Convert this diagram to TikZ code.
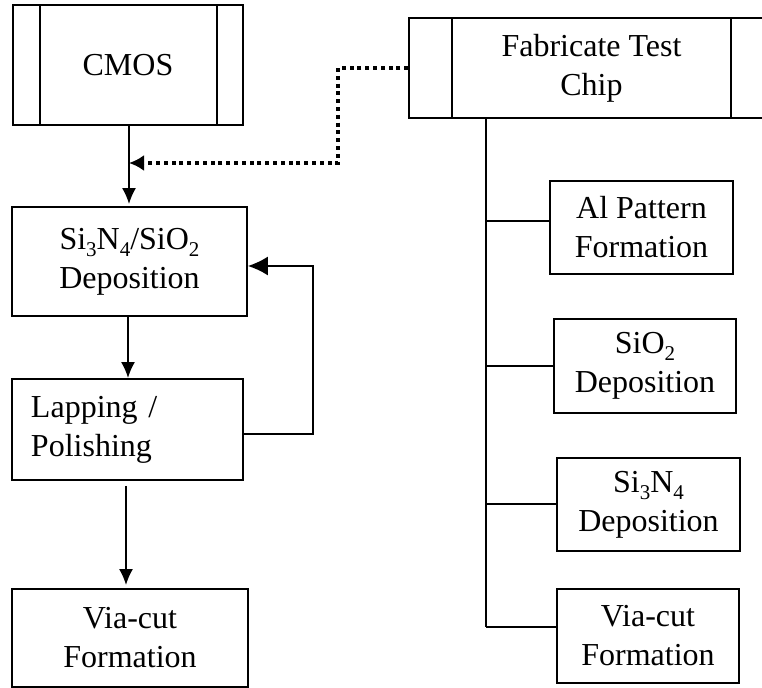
\documentclass[tikz,border=0pt]{standalone}
\usepackage{fontspec}
\setmainfont{Liberation Serif}
\usepackage{tikz}
\usetikzlibrary{arrows.meta}
\newcommand{\chemsub}[1]{\raisebox{-0.22em}{\fontsize{10.5}{10.5}\selectfont #1}}
\tikzstyle{box}=[
        draw, line width=0.9pt, inner sep=0pt, align=center,
        font=\fontsize{16}{19.5}\selectfont
]
\tikzstyle{flow}=[
        line width=0.9pt, -{Latex[length=8pt,width=7pt]}
]
\tikzstyle{bigflow}=[
        line width=0.9pt, -{Latex[length=10pt,width=9.5pt]}
]
\tikzstyle{dots}=[
        line width=1.7pt, dash pattern=on 2pt off 1.9pt, -{Latex[length=7.5pt,width=8pt]}
]
\begin{document}
\begin{tikzpicture}[x=0.5pt,y=-0.5pt]
                        \useasboundingbox (0,0) rectangle (762,688);

                        \node[box, minimum width=115pt, minimum height=60pt] (cmos) at (128,65) {\raisebox{-3.5pt}{CMOS}};
                        \node[box, minimum width=117.5pt, minimum height=54.5pt] (dep) at (129.5,261.5) {Si\chemsub{3}N\chemsub{4}/SiO\chemsub{2}\\Deposition};
                        \node[box, minimum width=115.5pt, minimum height=50.5pt, inner xsep=9.5pt, text width=96.5pt, align=left] (lap) at (127.5,429.5) {Lapping /\\Polishing};
                        \node[box, minimum width=118pt, minimum height=49pt] (via) at (130,638) {Via-cut\\Formation};

                        \node[box, minimum width=182.5pt, minimum height=50pt] (fab) at (591.5,68) {Fabricate Test\\Chip};
                        \node[box, minimum width=91.5pt, minimum height=46.5pt] (al) at (641.5,227.5) {Al Pattern\\Formation};
                        \node[box, minimum width=91pt, minimum height=47pt] (sio) at (645,366) {SiO\chemsub{2}\\Deposition};
                        \node[box, minimum width=91.5pt, minimum height=46.5pt] (sin) at (648.5,504.5) {Si\chemsub{3}N\chemsub{4}\\Deposition};
                        \node[box, minimum width=91pt, minimum height=47pt] (via2) at (648,636) {Via-cut\\Formation};

                        \draw[line width=0.9pt] ([xshift=14pt]cmos.north west) -- ([xshift=14pt]cmos.south west);
                        \draw[line width=0.9pt] ([xshift=-13.5pt]cmos.north east) -- ([xshift=-13.5pt]cmos.south east);
                        \draw[line width=0.9pt] ([xshift=22pt]fab.north west) -- ([xshift=22pt]fab.south west);
                        \draw[line width=0.9pt] ([xshift=-22pt]fab.north east) -- ([xshift=-22pt]fab.south east);

                        \coordinate (join) at (129,163);
                        \coordinate (turn) at (338,163);
                        \coordinate (back) at (313,266);
                        \coordinate (trunk) at (486,627);

                        \draw[flow] ([xshift=0.5pt]cmos.south) -- ([xshift=0.5pt,yshift=1pt]cmos.south |- dep.north);
                        \draw[dots] (fab.west) -| (turn) -- (join);
                        \draw[flow] ([xshift=-0.75pt]dep.south) -- ([xshift=-0.75pt]dep.south |- lap.north);
                        \draw[bigflow] ([yshift=-2.25pt]lap.east) -| (back) -- ([yshift=-2.25pt]dep.east);
                        \draw[flow] ([xshift=-0.75pt,yshift=-2.5pt]lap.south) -- ([xshift=-0.75pt,yshift=1.5pt]lap.south |- via.north);

                        \draw[line width=0.9pt] (fab.south -| trunk) -- (trunk);
                        \foreach \b/\y in {al/221, sio/366, sin/504, via2/627} {
                            \draw[line width=0.9pt] (trunk |- 0,\y) -- (\b.west |- 0,\y);
                        }

                    \end{tikzpicture}
\end{document}
